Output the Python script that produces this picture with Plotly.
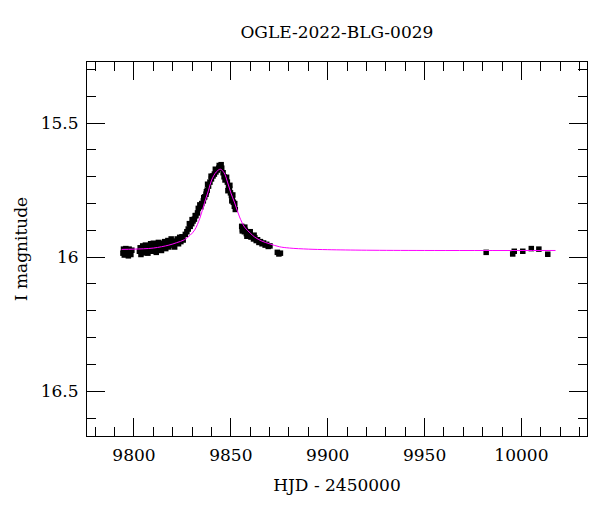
import plotly.graph_objects as go

# Observations (HJD - 2450000, I magnitude)
hjd = [
    9794.3, 9794.6, 9795.0, 9795.3, 9795.8, 9796.2, 9796.6, 9797.1, 9797.5, 9798.0, 9798.4, 9798.9,
    9802.8, 9803.2, 9803.6, 9804.1, 9804.5, 9805.0, 9805.4, 9805.9, 9806.3, 9806.8, 9807.2, 9807.7,
    9808.1, 9808.6, 9809.0, 9809.5, 9810.0, 9810.5, 9811.0, 9811.5, 9812.0, 9812.6, 9813.1, 9813.6,
    9814.2, 9814.7, 9815.3, 9815.8, 9816.4, 9816.9, 9817.5, 9818.0, 9818.6, 9819.2, 9819.8, 9820.4,
    9821.0, 9821.7, 9822.3, 9823.0, 9823.6, 9824.2, 9824.8, 9825.4,
    9826.5, 9827.3, 9828.0, 9829.0, 9829.8, 9830.5, 9831.2, 9832.0, 9832.8, 9834.5, 9835.0, 9835.8,
    9836.5, 9837.2, 9837.4, 9837.8, 9838.5, 9839.2, 9840.0, 9840.8, 9841.5, 9842.3, 9843.0, 9843.8,
    9844.5, 9845.3, 9846.0, 9846.5, 9847.0, 9847.5, 9848.2, 9848.8, 9849.3, 9849.8, 9850.3, 9850.8,
    9851.3, 9851.8, 9852.3,
    9828.6, 9830.0, 9831.6, 9833.2, 9834.0, 9836.0, 9838.0, 9839.8, 9842.0, 9844.0, 9845.0,
    9847.8, 9848.5, 9849.5, 9850.5, 9851.0, 9852.0,
    9855.6, 9856.0, 9856.5, 9857.0, 9857.5, 9858.0, 9858.6, 9859.2, 9859.8, 9860.4, 9861.0, 9861.7,
    9862.4, 9863.1, 9863.8, 9864.5, 9865.3, 9866.1, 9866.9, 9867.7, 9868.5, 9869.3, 9870.2,
    9855.9, 9857.2, 9858.3, 9860.0, 9862.0,
    9874.0, 9874.8, 9875.6,
    9981.8, 9995.5, 9996.3, 10000.7, 10005.1, 10009.0, 10013.6,
]
mag = [
    15.985, 15.970, 15.992, 15.978, 15.968, 15.988, 15.975, 15.995, 15.970, 15.982, 15.990, 15.974,
    15.978, 15.965, 15.990, 15.972, 15.958, 15.984, 15.968, 15.955, 15.978, 15.962, 15.985, 15.958,
    15.972, 15.950, 15.978, 15.962, 15.948, 15.972, 15.955, 15.982, 15.960, 15.945, 15.970, 15.952,
    15.975, 15.948, 15.962, 15.942, 15.968, 15.950, 15.938, 15.962, 15.946, 15.932, 15.955, 15.940,
    15.962, 15.946, 15.932, 15.950, 15.926, 15.942, 15.924, 15.936,
    15.915, 15.905, 15.895, 15.885, 15.875, 15.865, 15.858, 15.845, 15.835, 15.812, 15.800, 15.790,
    15.775, 15.765, 15.756, 15.750, 15.735, 15.720, 15.708, 15.697, 15.690, 15.682, 15.675, 15.668,
    15.662, 15.668, 15.685, 15.700, 15.712, 15.705, 15.720, 15.735, 15.745, 15.760, 15.770, 15.782,
    15.795, 15.810, 15.822,
    15.875, 15.860, 15.845, 15.818, 15.805, 15.778, 15.728, 15.698, 15.672, 15.658, 15.655,
    15.702, 15.752, 15.732, 15.790, 15.768, 15.800,
    15.885, 15.895, 15.890, 15.905, 15.900, 15.912, 15.908, 15.918, 15.915, 15.925, 15.922, 15.932,
    15.928, 15.938, 15.935, 15.945, 15.942, 15.950, 15.947, 15.955, 15.952, 15.960, 15.958,
    15.902, 15.888, 15.922, 15.905, 15.918,
    15.982, 15.988, 15.985,
    15.982, 15.988, 15.978, 15.978, 15.968, 15.970, 15.989,
]

# Model curve
model_hjd = [
    9793.6, 9800.0, 9810.0, 9818.0, 9822.0, 9826.0, 9829.0, 9831.3, 9834.0, 9836.5, 9838.5,
    9840.1, 9842.5, 9844.6, 9846.5, 9848.4, 9850.0, 9852.0, 9854.5, 9857.1, 9860.0, 9862.3,
    9866.0, 9870.0, 9875.0, 9880.3, 9890.0, 9900.0, 9920.0, 9950.0, 10017.6,
]
model_mag = [
    15.971, 15.970, 15.966, 15.955, 15.946, 15.935, 15.918, 15.899, 15.855, 15.795, 15.750,
    15.712, 15.682, 15.672, 15.685, 15.723, 15.760, 15.798, 15.850, 15.888, 15.910, 15.925,
    15.940, 15.950, 15.961, 15.966, 15.970, 15.972, 15.974, 15.975, 15.975,
]

x_ticks = [9800, 9850, 9900, 9950, 10000]
y_ticks = [15.5, 16.0, 16.5]
y_tick_text = ["15.5", "16", "16.5"]

FONT = "DejaVu Serif"

fig = go.Figure()
fig.add_trace(go.Scatter(
    x=hjd, y=mag, mode="markers",
    marker=dict(symbol="square", size=5.5, color="black", line=dict(width=0)),
    showlegend=False,
))
fig.add_trace(go.Scatter(
    x=model_hjd, y=model_mag, mode="lines",
    line=dict(color="#ff00ff", width=1, shape="spline", smoothing=1.0),
    showlegend=False,
))

axis_common = dict(
    showline=True, linecolor="black", linewidth=1, mirror="allticks",
    ticks="inside", ticklen=18, tickwidth=1, tickcolor="black",
    showgrid=False, zeroline=False,
    tickfont=dict(family=FONT, size=17, color="black"),
)

fig.update_layout(
    width=600, height=512,
    margin=dict(l=87, r=13, t=62, b=76),
    paper_bgcolor="white", plot_bgcolor="white",
    title=dict(text="OGLE-2022-BLG-0029", x=0.5615, xanchor="center", y=0.938, yanchor="middle",
               font=dict(family=FONT, size=17, color="black")),
    xaxis=dict(
        range=[9775.75, 10033.85], tickvals=x_ticks, ticktext=[str(v) for v in x_ticks],
        minor=dict(dtick=10, tick0=9800, ticks="inside", ticklen=9, tickcolor="black", showgrid=False),
        title=dict(text="HJD - 2450000", font=dict(family=FONT, size=17, color="black"), standoff=14),
        ticklabelstandoff=4,
        **axis_common,
    ),
    yaxis=dict(
        range=[16.667, 15.272], tickvals=y_ticks, ticktext=y_tick_text,
        minor=dict(dtick=0.1, tick0=15.5, ticks="inside", ticklen=9, tickcolor="black", showgrid=False),
        title=dict(text="I magnitude", font=dict(family=FONT, size=17, color="black"), standoff=8),
        ticklabelstandoff=4,
        **axis_common,
    ),
)

fig.write_html("out.html")
